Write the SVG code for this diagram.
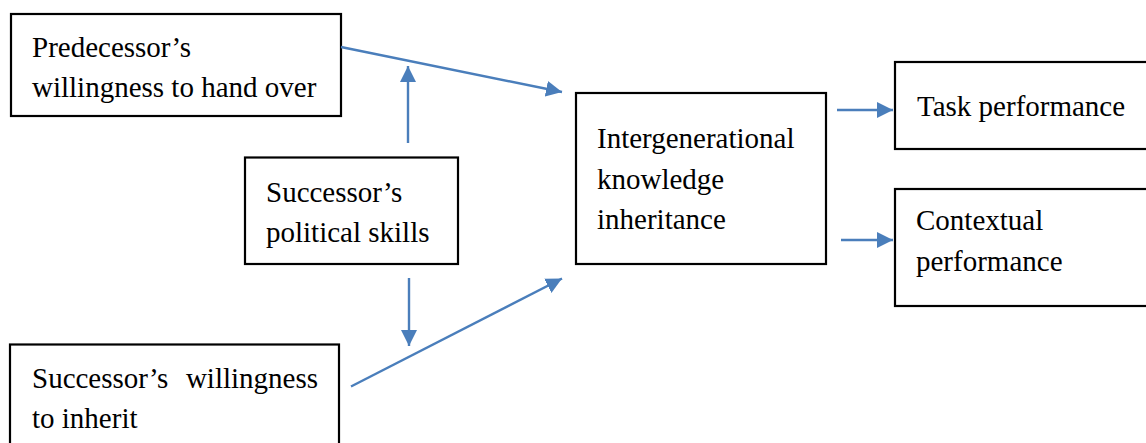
<svg xmlns="http://www.w3.org/2000/svg" width="1146" height="443" viewBox="0 0 1146 443">
<style>
.box{fill:#fff;stroke:#000;stroke-width:2.2}
.t{font-family:"Liberation Serif","Times New Roman",serif;font-size:29px;fill:#000}
.c{stroke:#4A7EBB;stroke-width:2.4;fill:none;marker-end:url(#ah)}
</style>
<defs>
<marker id="ah" markerUnits="userSpaceOnUse" markerWidth="16" markerHeight="16" refX="16" refY="8" orient="auto">
<path d="M0,0 L16,8 L0,16 z" fill="#4A7EBB"/>
</marker>
</defs>
<rect width="1146" height="443" fill="#fff"/>
<g id="n-predecessor">
<rect class="box" x="11" y="14" width="330" height="102"/>
<text class="t" x="32" y="57">Predecessor’s</text>
<text class="t" x="32" y="97">willingness to hand over</text>
</g>
<g id="n-political">
<rect class="box" x="245" y="157.5" width="213" height="106.5"/>
<text class="t" x="266" y="202">Successor’s</text>
<text class="t" x="266" y="242">political skills</text>
</g>
<g id="n-successor">
<rect class="box" x="10" y="344.5" width="329" height="110"/>
<text class="t" x="32" y="388">Successor’s</text>
<text class="t" x="318" y="388" text-anchor="end">willingness</text>
<text class="t" x="32" y="428">to inherit</text>
</g>
<g id="n-inheritance">
<rect class="box" x="576" y="93" width="250" height="171"/>
<text class="t" x="597" y="148">Intergenerational</text>
<text class="t" x="597" y="189">knowledge</text>
<text class="t" x="597" y="229">inheritance</text>
</g>
<g id="n-task">
<rect class="box" x="895" y="62" width="260" height="87"/>
<text class="t" x="917" y="116">Task performance</text>
</g>
<g id="n-contextual">
<rect class="box" x="895" y="189" width="260" height="117"/>
<text class="t" x="916" y="230">Contextual</text>
<text class="t" x="916" y="271">performance</text>
</g>
<g id="connectors">
<line class="c" x1="341" y1="47" x2="562" y2="92"/>
<line class="c" x1="408" y1="143" x2="408" y2="66"/>
<line class="c" x1="409" y1="278" x2="409" y2="346"/>
<line class="c" x1="351" y1="386.5" x2="562" y2="278.5"/>
<line class="c" x1="837" y1="110" x2="893" y2="110"/>
<line class="c" x1="841" y1="240" x2="893" y2="240"/>
</g>
</svg>
